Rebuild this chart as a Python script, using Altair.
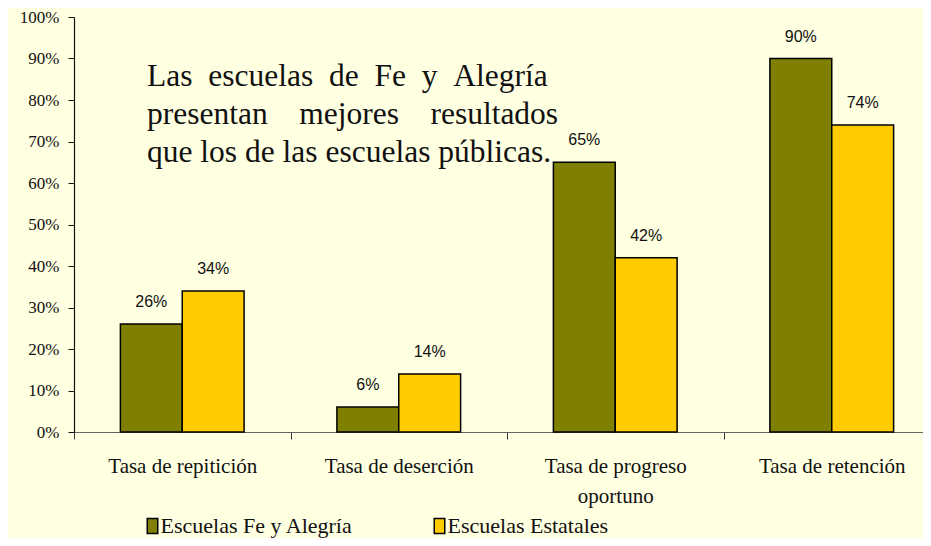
import altair as alt
import pandas as pd

categories = ["Tasa de repitición", "Tasa de deserción", "Tasa de progreso oportuno", "Tasa de retención"]
series = ["Escuelas Fe y Alegría", "Escuelas Estatales"]
fe_alegria = [0.26, 0.06, 0.65, 0.90]
estatales = [0.34, 0.14, 0.42, 0.74]
colors = ["#808000", "#FFCC00"]
y_ticks = [0.0, 0.1, 0.2, 0.3, 0.4, 0.5, 0.6, 0.7, 0.8, 0.9, 1.0]
NB = "\u00a0"
note_lines = [
    f"Las {NB}escuelas {NB}de {NB}Fe {NB}y {NB}Alegría",
    f"presentan {NB*3}mejores {NB*3}resultados",
    "que los de las escuelas públicas.",
]

rows = []
for c, a, b in zip(categories, fe_alegria, estatales):
    rows.append({"cat": c, "serie": series[0], "val": a})
    rows.append({"cat": c, "serie": series[1], "val": b})
df = pd.DataFrame(rows)

SERIF = "Liberation Serif"

x_enc = alt.X(
    "cat:N",
    sort=categories,
    title=None,
    scale=alt.Scale(range=[0, 866], paddingInner=0, paddingOuter=0),
    axis=alt.Axis(
        labelAngle=0,
        labelFont=SERIF,
        labelFontSize=21,
        labelColor="#111",
        labelPadding=16,
        labelLineHeight=30,
        labelExpr="datum.label == 'Tasa de progreso oportuno' ? ['Tasa de progreso', 'oportuno'] : datum.label",
        tickBand="extent",
        tickSize=7,
        tickColor="#333",
        domainColor="#666",
        domainWidth=1,
        labelLimit=300,
    ),
)
xoff = alt.XOffset(
    "serie:N",
    sort=series,
    scale=alt.Scale(paddingInner=0, paddingOuter=0.75),
)
y_enc = alt.Y(
    "val:Q",
    title=None,
    scale=alt.Scale(domain=[0, 1], nice=False),
    axis=alt.Axis(
        values=y_ticks,
        format=".0%",
        grid=False,
        labelFont=SERIF,
        labelFontSize=17,
        labelColor="#111",
        tickSize=6,
        tickColor="#111",
        labelPadding=9,
        domainColor="#111",
        domainWidth=1.2,
    ),
)

bars = alt.Chart(df).mark_bar(stroke="black", strokeWidth=1.5).encode(
    x=x_enc,
    xOffset=xoff,
    y=y_enc,
    color=alt.Color(
        "serie:N",
        sort=series,
        scale=alt.Scale(domain=series, range=colors),
        legend=alt.Legend(
            title=None,
            orient="none",
            legendX=64.5,
            legendY=498,
            columns=2,
            columnPadding=72,
            padding=0,
            symbolType="M-0.3,-1H1.1V1H-0.3Z",
            symbolSize=225,
            symbolStrokeColor="black",
            symbolStrokeWidth=1.5,
            labelFont=SERIF,
            labelFontSize=22,
            labelColor="#111",
            labelOffset=0,
            labelLimit=400,
        ),
    ),
)

labels = alt.Chart(df).mark_text(
    font="Liberation Sans", fontSize=16, color="#111", baseline="middle", dy=-22
).encode(
    x=alt.X("cat:N", sort=categories),
    xOffset=alt.XOffset("serie:N", sort=series),
    y="val:Q",
    text=alt.Text("val:Q", format=".0%"),
)

note = alt.Chart(pd.DataFrame({"t": ["\n".join(note_lines)]})).mark_text(
    font=SERIF,
    fontSize=31.5,
    color="#111",
    align="left",
    baseline="alphabetic",
    lineBreak="\n",
    lineHeight=38,
).encode(
    x=alt.value(73),
    y=alt.value(69),
    text="t:N",
)

chart = (
    alt.layer(bars, labels, note)
    .properties(
        width=849,
        height=415,
        background="#FFFFE1",
        autosize=alt.AutoSizeParams(type="none"),
        padding={"left": 66, "top": 9, "right": 0, "bottom": 106},
    )
    .configure_view(stroke=None)
)

chart.save("out.html", embed_options={"renderer": "svg", "actions": False})
